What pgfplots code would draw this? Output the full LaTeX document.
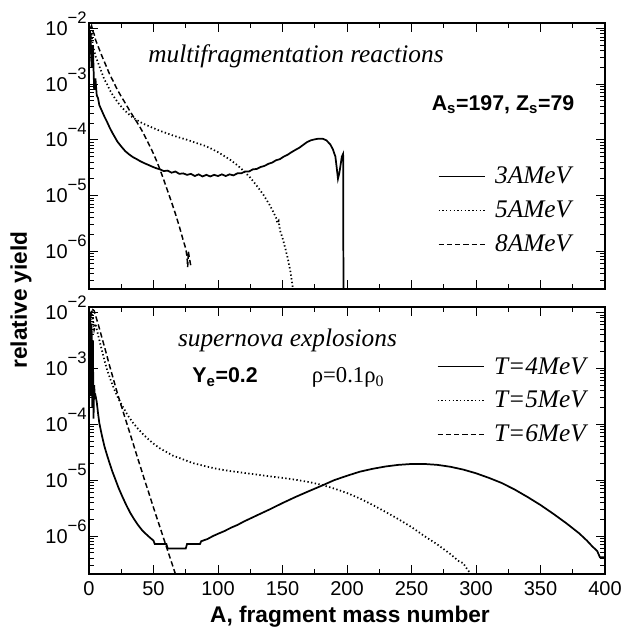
\documentclass[border=0pt]{standalone}
\usepackage{fontspec}
\setmainfont{Liberation Sans}
\newfontfamily\serif{Liberation Serif}
\usepackage{pgfplots}
\pgfplotsset{compat=1.18}

\newcommand\tp[1]{10\raisebox{9pt}{\fontsize{12.5}{13}\selectfont −#1}}

\tikzset{
  solidc/.style={black, line width=1.3pt},
  dotc/.style={black, line width=1.3pt, dash pattern=on 1pt off 1.8pt},
  dashc/.style={black, line width=1.1pt, dash pattern=on 4pt off 2.2pt},
}
% settings shared by both panels
\pgfplotsset{
  legend image code/.code={\draw[#1, line width=0.8pt] (0pt,0pt) -- (35pt,0pt);},
  scale only axis, width=387pt,
  xmin=0, xmax=400, ymin=2.1e-7, ymax=1.25e-2,
  xtick={0,50,...,400}, minor x tick num=1,
  ytick={1e-6,1e-5,1e-4,1e-3,1e-2},
  yticklabels={\tp6,\tp5,\tp4,\tp3,\tp2},
  minor ytick={3e-7,4e-7,5e-7,6e-7,7e-7,8e-7,9e-7,
    2e-6,3e-6,4e-6,5e-6,6e-6,7e-6,8e-6,9e-6,
    2e-5,3e-5,4e-5,5e-5,6e-5,7e-5,8e-5,9e-5,
    2e-4,3e-4,4e-4,5e-4,6e-4,7e-4,8e-4,9e-4,
    2e-3,3e-3,4e-3,5e-3,6e-3,7e-3,8e-3,9e-3},
  tick align=inside, tick pos=both,
  xticklabel pos=lower, yticklabel pos=left,
  major tick length=7pt, minor tick length=3.5pt,
  axis line style={line width=1.6pt},
  every tick/.style={black, line width=0.7pt},
  ticklabel style={font=\fontsize{15}{17}\selectfont},
  yticklabel style={anchor=base east, inner sep=0pt, xshift=-1.5pt, yshift=-5.25pt},
  xticklabel style={anchor=north, inner sep=0pt, yshift=-5.25pt},
  legend style={draw=none, fill=none, anchor=north west,
    font=\serif\itshape\fontsize{19}{21}\selectfont,
    row sep=7.4pt, column sep=5pt, inner sep=0pt,
    cells={anchor=west}},
}

\begin{document}
\begin{tikzpicture}
\path[use as bounding box] (0,0) rectangle (474.75pt,-471pt);

\begin{semilogyaxis}[at={(66.75pt,-17.25pt)}, anchor=north west, height=199.5pt,
  xticklabels={}, legend style={at={(0.676,0.47)}}]
\addplot[solidc] coordinates {
(1,8.9e-3) (2,2.0e-3) (3,5.0e-3) (4,7.9e-4) (5,1.26e-3) (6,6.3e-4) (7,5.6e-4) (8,4.2e-4)
(10,3.3e-4) (12,2.6e-4) (14,2.1e-4) (16,1.66e-4) (18,1.35e-4) (20,1.12e-4) (22,9.3e-5)
(25,7.6e-5) (28,6.3e-5) (31,5.5e-5) (34,4.9e-5) (37,4.5e-5) (40,4.1e-5) (43,3.8e-5)
(46,3.55e-5) (49,3.3e-5) (52,3.1e-5) (55,2.95e-5) (58,2.75e-5) (61,2.8e-5) (64,2.57e-5)
(67,2.7e-5) (70,2.45e-5) (73,2.5e-5) (76,2.35e-5) (79,2.45e-5) (82,2.24e-5) (85,2.4e-5)
(88,2.2e-5) (91,2.35e-5) (94,2.2e-5) (97,2.35e-5) (100,2.24e-5) (103,2.4e-5) (106,2.24e-5)
(109,2.4e-5) (112,2.3e-5) (115,2.5e-5) (118,2.5e-5) (121,2.7e-5) (124,2.7e-5) (127,2.95e-5)
(130,3.0e-5) (133,3.25e-5) (136,3.4e-5) (139,3.7e-5) (142,3.9e-5) (145,4.3e-5) (148,4.5e-5)
(151,5.0e-5) (154,5.4e-5) (157,6.0e-5) (160,6.6e-5) (163,7.2e-5) (166,8.1e-5) (169,9.1e-5)
(172,9.8e-5) (175,1.02e-4) (178,1.05e-4) (181,1.05e-4) (184,9.8e-5) (187,8.3e-5) (189,6.8e-5)
(191,5.0e-5) (192,3.2e-5) (193,2.0e-5) (194,2.5e-5) (195,3.5e-5) (196,5.0e-5) (197,5.6e-5)
(197.5,1e-9)};
\addlegendentry{3AMeV}
\addplot[dotc] coordinates {
(1,5.0e-3) (2,7.9e-3) (3,5.0e-3) (4,4.0e-3) (5,3.2e-3) (6,2.8e-3) (8,2.1e-3) (10,1.58e-3)
(12,1.2e-3) (14,1.0e-3) (16,7.9e-4) (18,6.6e-4) (20,5.6e-4) (23,4.5e-4) (26,3.7e-4)
(30,3.0e-4) (34,2.5e-4) (38,2.2e-4) (42,1.95e-4) (46,1.78e-4) (50,1.62e-4) (55,1.45e-4)
(60,1.32e-4) (65,1.2e-4) (70,1.1e-4) (75,1.02e-4) (80,9.3e-5) (85,8.5e-5) (90,7.8e-5)
(95,6.9e-5) (100,6.0e-5) (105,5.1e-5) (110,4.3e-5) (115,3.5e-5) (120,2.75e-5) (125,2.1e-5)
(130,1.5e-5) (135,1.05e-5) (140,6.8e-6) (143,5.0e-6) (145,4.0e-6) (146,3.2e-6) (147,3.5e-6)
(148,2.4e-6) (150,1.74e-6) (152,1.17e-6) (154,7.6e-7) (156,4.5e-7) (157,3.2e-7) (158,2.2e-7)
(159,1.26e-7)};
\addlegendentry{5AMeV}
\addplot[dashc] coordinates {
(1,1.0e-2) (2,1.12e-2) (3,8.9e-3) (4,7.9e-3) (5,6.3e-3) (7,4.8e-3) (10,3.2e-3) (13,2.2e-3)
(16,1.5e-3) (19,1.1e-3) (22,7.9e-4) (25,6.0e-4) (28,4.6e-4) (31,3.5e-4) (34,2.7e-4)
(37,2.1e-4) (40,1.62e-4) (43,1.2e-4) (46,8.7e-5) (49,6.3e-5) (52,4.4e-5) (55,2.95e-5)
(58,1.9e-5) (61,1.2e-5) (64,7.6e-6) (67,4.7e-6) (70,2.8e-6) (73,1.58e-6) (75,1.12e-6)
(76,7.9e-7) (76.5,5.2e-7) (77,1.0e-6) (78,7.1e-7) (79,5.4e-7)};
\addlegendentry{8AMeV}
\end{semilogyaxis}

\begin{semilogyaxis}[at={(66.75pt,-230.25pt)}, anchor=north west, height=200.25pt,
  xticklabels={0,50,100,150,200,250,300,350,400},
  legend style={at={(0.674,0.822)}}]
\addplot[solidc] coordinates {
(1,1.0e-2) (1.5,3.2e-4) (2,6.3e-3) (2.5,2.0e-4) (3,3.2e-3) (3.5,1.26e-4) (4,5.0e-4)
(4.5,3.2e-4) (5,3.3e-4) (6,2.5e-4) (7,1.58e-4) (8,1.05e-4) (10,6.3e-5) (12,4.0e-5)
(14,2.8e-5) (16,2.0e-5) (18,1.45e-5) (20,1.1e-5) (23,7.2e-6) (26,5.0e-6) (29,3.55e-6)
(32,2.6e-6) (35,2.0e-6) (38,1.58e-6) (41,1.29e-6) (44,1.1e-6) (47,9.5e-7) (50,8.3e-7)
(51,7.2e-7) (60,7.2e-7) (61,6.0e-7) (75,6.0e-7) (76,7.2e-7) (86,7.2e-7) (87,8.1e-7)
(92,8.9e-7) (96,1.0e-6) (100,1.1e-6) (105,1.23e-6) (110,1.41e-6) (115,1.58e-6) (120,1.82e-6)
(130,2.34e-6) (140,3.0e-6) (150,3.9e-6) (160,5.0e-6) (170,6.3e-6) (180,7.9e-6) (190,1.0e-5)
(200,1.2e-5) (210,1.42e-5) (220,1.6e-5) (230,1.76e-5) (240,1.88e-5) (250,1.95e-5) (260,1.95e-5)
(270,1.88e-5) (280,1.74e-5) (290,1.55e-5) (300,1.33e-5) (310,1.1e-5) (320,8.9e-6) (330,6.8e-6)
(340,5.0e-6) (350,3.6e-6) (360,2.5e-6) (370,1.7e-6) (380,1.12e-6) (386,8.3e-7) (390,6.6e-7)
(394,5.4e-7) (396,4.2e-7) (400,4.2e-7)};
\addlegendentry{T=4MeV}
\addplot[dotc] coordinates {
(1,6.3e-3) (2,1.12e-2) (3,7.9e-3) (4,5.0e-3) (5,6.3e-3) (6,5.0e-3) (8,3.2e-3) (10,2.1e-3)
(12,1.38e-3) (14,9.5e-4) (16,6.9e-4) (18,5.2e-4) (20,4.0e-4) (23,2.8e-4) (26,2.1e-4)
(30,1.45e-4) (34,1.07e-4) (38,8.3e-5) (42,6.6e-5) (46,5.4e-5) (50,4.5e-5) (55,3.7e-5)
(60,3.2e-5) (65,2.75e-5) (70,2.5e-5) (80,2.04e-5) (90,1.78e-5) (100,1.58e-5) (110,1.45e-5)
(120,1.35e-5) (130,1.26e-5) (140,1.17e-5) (150,1.1e-5) (160,1.02e-5) (170,9.3e-6) (180,8.3e-6)
(190,7.1e-6) (200,5.9e-6) (210,4.7e-6) (220,3.6e-6) (230,2.7e-6) (240,2.0e-6) (250,1.45e-6)
(260,1.0e-6) (270,7.1e-7) (280,4.8e-7) (287,3.5e-7) (290,3.3e-7) (293,2.6e-7) (296,2.1e-7)
(298,1.6e-7)};
\addlegendentry{T=5MeV}
\addplot[dashc] coordinates {
(1,7.9e-3) (2,1.0e-2) (3,1.12e-2) (4,1.07e-2) (7,6.3e-3) (10,3.55e-3) (13,2.0e-3) (16,1.1e-3)
(19,6.3e-4) (22,3.6e-4) (25,2.14e-4) (28,1.29e-4) (31,7.8e-5) (34,4.7e-5) (37,2.8e-5)
(40,1.7e-5) (43,1.02e-5) (46,6.3e-6) (49,3.8e-6) (52,2.34e-6) (55,1.45e-6) (58,8.9e-7)
(61,5.5e-7) (64,3.4e-7) (67,2.1e-7) (69,1.5e-7)};
\addlegendentry{T=6MeV}
\end{semilogyaxis}

\node[anchor=base, font=\serif\itshape\fontsize{19}{21}\selectfont] at (222pt,-47pt) {multifragmentation reactions};
\node[anchor=base, font=\bfseries\fontsize{16}{18}\selectfont] at (377.25pt,-82.5pt) {A\textsubscript{s}=197, Z\textsubscript{s}=79};
\node[anchor=base, font=\serif\itshape\fontsize{19}{21}\selectfont] at (215.6pt,-260pt) {supernova explosions};
\node[anchor=base, font=\bfseries\fontsize{16}{18}\selectfont] at (168.75pt,-287pt) {Y\textsubscript{e}=0.2};
\node[anchor=base, font=\serif\fontsize{17}{19}\selectfont] at (261pt,-287pt) {ρ=0.1ρ\textsubscript{0}};
\node[rotate=90, font=\bfseries\fontsize{17}{19}\selectfont] at (15.75pt,-225pt) {relative yield};
\node[anchor=base, font=\bfseries\fontsize{17}{19}\selectfont] at (262.5pt,-467pt) {A, fragment mass number};
\end{tikzpicture}
\end{document}
